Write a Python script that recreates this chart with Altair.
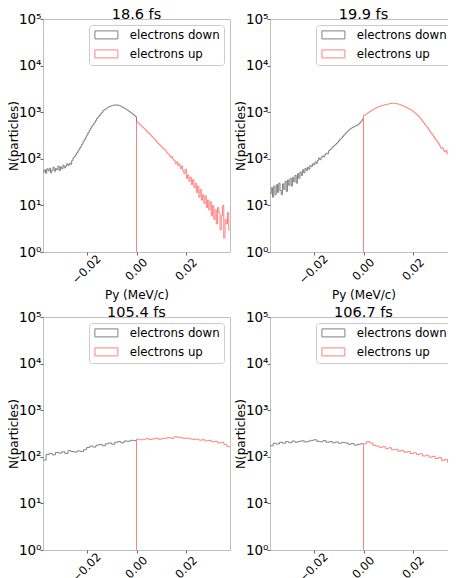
import altair as alt
import pandas as pd

# ---------------- data ----------------
titles = ["18.6 fs", "19.9 fs", "105.4 fs", "106.7 fs"]
series_names = ["electrons down", "electrons up"]
series_colors = ["#808080", "#ff8080"]
x_domain = [-0.0375, 0.0375]
x_ticks = [-0.02, 0.0, 0.02]
y_ticks = [1, 10, 100, 1000, 10000, 100000]
fine_bin = 0.0005     # top row histograms
coarse_bin = 0.00125  # bottom row histograms

p1_down = [52, 58, 49, 61, 55, 63, 50, 57, 66, 54,
           62, 58, 70, 56, 67, 61, 73, 64, 69, 78,
           72, 80, 76, 92, 104, 112, 122, 135, 150, 168,
           182, 205, 232, 258, 290, 322, 365, 410, 455, 500,
           548, 600, 660, 735, 790, 850, 920, 990, 1080, 1130,
           1180, 1230, 1280, 1330, 1350, 1390, 1410, 1430, 1415, 1440,
           1400, 1380, 1350, 1300, 1260, 1220, 1170, 1130, 1080, 1030,
           990, 940, 900, 850, 800]
p1_up = [625, 590, 560, 530, 500, 468, 440, 410, 385, 362,
         345, 322, 300, 285, 262, 250, 228, 215, 202, 188,
         180, 165, 158, 150, 135, 128, 120, 108, 112, 98,
         92, 80, 86, 72, 78, 62, 70, 55, 48, 60,
         38, 45, 33, 40, 28, 36, 24, 30, 19, 26,
         15, 22, 13, 17, 11, 16, 9, 13, 8, 12,
         6, 10, 5, 8, 4, 9, 7, 3, 6, 10,
         2, 5, 4, 7, 3]

p2_down = [18, 24, 15, 26, 17, 28, 19, 30, 21, 17,
           29, 22, 33, 20, 35, 27, 38, 26, 40, 32,
           44, 30, 48, 38, 52, 44, 58, 50, 62, 56,
           66, 60, 72, 68, 78, 74, 86, 80, 92, 104,
           96, 108, 115, 110, 124, 132, 128, 150, 158, 168,
           180, 190, 200, 212, 226, 245, 262, 280, 300, 322,
           345, 370, 392, 415, 435, 455, 470, 488, 505, 520,
           535, 560, 600, 650, 715]
p2_up = [845, 880, 920, 960, 1000, 1040, 1080, 1120, 1170, 1210,
         1250, 1290, 1320, 1350, 1380, 1400, 1420, 1450, 1470, 1490,
         1510, 1530, 1540, 1550, 1545, 1550, 1530, 1510, 1480, 1450,
         1420, 1390, 1350, 1310, 1270, 1230, 1190, 1150, 1110, 1060,
         1010, 960, 910, 860, 810, 750, 690, 640, 590, 545,
         505, 465, 420, 390, 355, 325, 300, 272, 250, 230,
         210, 190, 168, 172, 150, 140, 152, 128, 136, 118,
         111, 124, 98, 108, 102]

p3_down = [85, 112, 118, 110, 124, 120, 128, 118, 135, 130,
           126, 134, 130, 142, 158, 170, 162, 178, 184, 172,
           190, 198, 186, 205, 212, 200, 218, 215, 226, 222]
p3_up = [240, 232, 238, 245, 236, 242, 250, 238, 246, 252,
         258, 248, 270, 262, 255, 248, 252, 242, 236, 240,
         228, 232, 220, 225, 210, 215, 198, 205, 185, 165]

p4_down = [172, 195, 188, 205, 196, 212, 200, 218, 206, 214,
           220, 208, 216, 225, 232, 215, 210, 222, 205, 212,
           200, 208, 195, 204, 198, 186, 192, 178, 185, 190]
p4_up = [190, 212, 198, 176, 170, 160, 165, 150, 156, 142,
         145, 132, 138, 125, 130, 118, 122, 112, 116, 104,
         108, 98, 102, 92, 96, 84, 88, 76, 70, 66]

FLOOR = 0.1  # below the log axis minimum, clipped away (outline drops to zero at Py = 0)


def step_table(down, up, width):
    rows = []
    k = 0
    # electrons down: bins left of zero, outline drops to zero at the right end (Py = 0)
    start = -width * len(down)
    for i, c in enumerate(down):
        left = start + i * width
        rows.append({"series": series_names[0], "px": left, "n": c, "k": k}); k += 1
        rows.append({"series": series_names[0], "px": left + width, "n": c, "k": k}); k += 1
    rows.append({"series": series_names[0], "px": 0.0, "n": FLOOR, "k": k}); k += 1
    # electrons up: outline rises from zero at Py = 0
    rows.append({"series": series_names[1], "px": 0.0, "n": FLOOR, "k": k}); k += 1
    for i, c in enumerate(up):
        left = i * width
        rows.append({"series": series_names[1], "px": left, "n": c, "k": k}); k += 1
        rows.append({"series": series_names[1], "px": left + width, "n": c, "k": k}); k += 1
    return pd.DataFrame(rows)


FONT = "DejaVu Sans"
sup_expr = "'10' + ['\u2070','\u00b9','\u00b2','\u00b3','\u2074','\u2075'][round(log(datum.value)/LN10)]"


def panel(down, up, width, title):
    df = step_table(down, up, width)
    base = alt.Chart(df).mark_line(clip=True, strokeWidth=1).encode(
        x=alt.X("px:Q",
                scale=alt.Scale(domain=x_domain, nice=False, zero=False),
                axis=alt.Axis(values=x_ticks, format=".2f", title="Py (MeV/c)",
                              labelAngle=315, labelAlign="center", labelBaseline="middle",
                              labelFontSize=11.5, labelPadding=14.5, titlePadding=4)),
        y=alt.Y("n:Q",
                scale=alt.Scale(type="log", domain=[1, 100000], nice=False),
                axis=alt.Axis(values=y_ticks, labelExpr=sup_expr, title="N(particles)",
                              labelFontSize=13.5, labelPadding=-1, titlePadding=-2.5)),
        color=alt.Color("series:N",
                        scale=alt.Scale(domain=series_names, range=series_colors),
                        legend=alt.Legend(title=None, orient="top-right", offset=6,
                                          symbolType="M-1,-1H4.75V1H-1Z", symbolSize=64,
                                          symbolStrokeWidth=1, symbolFillColor="transparent",
                                          labelFontSize=11.8, labelFont=FONT, labelColor="black",
                                          labelOffset=25, padding=4, rowPadding=5,
                                          fillColor="white", strokeColor="#cccccc",
                                          cornerRadius=3, labelLimit=200)),
        order="k:Q",
    )
    down_layer = base.transform_filter(alt.datum.series == series_names[0])
    up_layer = base.transform_filter(alt.datum.series == series_names[1])
    return alt.layer(down_layer, up_layer).properties(
        width=187, height=233,
        title=alt.TitleParams(title, fontSize=14.5, fontWeight="normal",
                              font=FONT, offset=-10, color="black"))


row1 = alt.hconcat(panel(p1_down, p1_up, fine_bin, titles[0]),
                   panel(p2_down, p2_up, fine_bin, titles[1]),
                   spacing=3).resolve_legend(color="independent")
row2 = alt.hconcat(panel(p3_down, p3_up, coarse_bin, titles[2]),
                   panel(p4_down, p4_up, coarse_bin, titles[3]),
                   spacing=3).resolve_legend(color="independent")

# fixed 440 x 570 canvas; origin = top-left of the first plot area
chart = alt.vconcat(row1, row2, spacing=2).resolve_legend(color="independent").properties(
    autosize=alt.AutoSizeParams(type="none"),
    padding={"left": 35, "top": 11, "right": 405, "bottom": 559}
).configure_axis(
    labelFont=FONT, titleFont=FONT, titleFontSize=12,
    titleFontWeight="normal", labelColor="black", titleColor="black",
    tickColor="#666666", tickSize=3, domain=False, grid=False
).configure_view(
    stroke="#c0c0c0", strokeWidth=1
).configure_title(anchor="middle")

chart.save("out.html", embed_options={"renderer": "svg", "actions": False})
